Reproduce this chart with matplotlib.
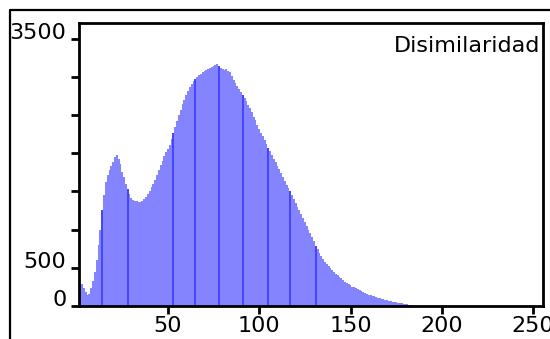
import matplotlib
matplotlib.use('Agg')
import matplotlib.pyplot as plt
from matplotlib.lines import Line2D

# Histogram counts per grey level (levels 1..184)
levels = list(range(1, 185))
counts = [
    280, 300, 290, 240, 180, 150, 160, 230, 330, 450,
    600, 800, 1000, 1250, 1450, 1620, 1720, 1780, 1830, 1880,
    1950, 1980, 1930, 1860, 1760, 1690, 1600, 1530, 1460, 1420,
    1390, 1380, 1370, 1360, 1365, 1380, 1395, 1430, 1470, 1510,
    1560, 1600, 1650, 1720, 1780, 1840, 1900, 1960, 2010, 2060,
    2110, 2180, 2260, 2340, 2420, 2500, 2570, 2640, 2700, 2760,
    2820, 2860, 2900, 2940, 2970, 3000, 3020, 3040, 3060, 3080,
    3090, 3100, 3110, 3130, 3140, 3150, 3170, 3140, 3120, 3100,
    3090, 3100, 3080, 3060, 3010, 2960, 2920, 2880, 2840, 2800,
    2760, 2720, 2680, 2630, 2590, 2540, 2480, 2430, 2370, 2320,
    2270, 2220, 2170, 2120, 2070, 2030, 1980, 1930, 1880, 1830,
    1790, 1740, 1690, 1640, 1590, 1540, 1500, 1450, 1400, 1350,
    1300, 1260, 1200, 1150, 1100, 1050, 990, 950, 900, 850,
    790, 740, 700, 660, 620, 580, 550, 520, 500, 470,
    440, 420, 400, 380, 360, 340, 320, 300, 285, 270,
    255, 245, 230, 220, 210, 195, 185, 170, 160, 150,
    140, 130, 125, 115, 110, 100, 95, 88, 80, 72,
    66, 60, 56, 50, 46, 42, 38, 34, 30, 26,
    20, 14, 8, 4,
]
# levels that show up as darker stripes in the original rendering
dark_levels = [14, 28, 53, 65, 78, 91, 105, 117, 131]

x_ticks = [50, 100, 150, 200, 250]
y_ticks = [0, 500, 1000, 1500, 2000, 2500, 3000, 3500]
y_labels = ['0', '500', '', '', '', '', '', '3500']

plt.rcParams['font.family'] = ['DejaVu Sans']

fig = plt.figure(figsize=(5.5, 3.39), dpi=100)
ax = fig.add_axes([79 / 550, 1 - 306 / 339, 464 / 550, 283 / 339])

colors = ['#4646ff' if lv in dark_levels else '#8484ff' for lv in levels]
ax.bar(levels, counts, width=1.0, color=colors, linewidth=0)

ax.set_xlim(1.3, 255.4)
ax.set_ylim(0, 3704)

ax.set_xticks(x_ticks)
ax.set_yticks(y_ticks)
ax.set_yticklabels(y_labels)
ax.tick_params(direction='out', length=6, width=2, labelsize=16, colors='black')
ax.tick_params(axis='x', pad=1)
ax.tick_params(axis='y', pad=3)
for lab in ax.get_yticklabels():
    lab.set_verticalalignment('baseline')

for sp in ax.spines.values():
    sp.set_linewidth(2)

ax.text(0.993, 0.92, 'Disimilaridad', transform=ax.transAxes,
        ha='right', va='center', fontsize=16)

# outer frame (clipped by the image on the right and bottom)
fig.add_artist(Line2D([10 / 550, 10 / 550, 1.01], [-0.01, 1 - 10 / 339, 1 - 10 / 339],
                      transform=fig.transFigure, color='black', lw=1.6))

fig.savefig('out.png', dpi=100)
